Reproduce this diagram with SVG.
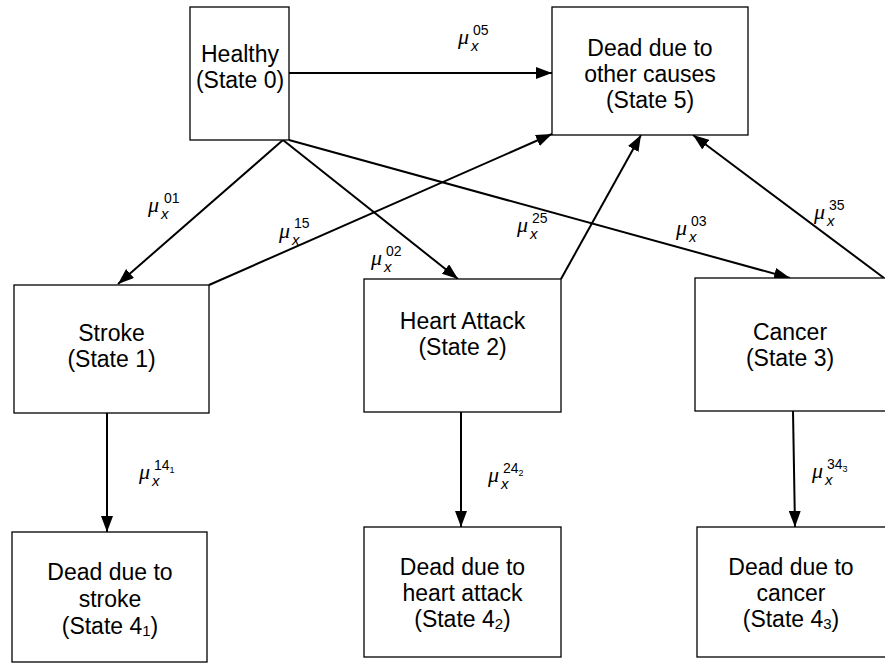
<svg xmlns="http://www.w3.org/2000/svg" width="885" height="664" viewBox="0 0 885 664">
<defs>
<style>
.box{fill:#fff;stroke:#000;stroke-width:1.3}
.t{font-family:"Liberation Sans",Arial,sans-serif;font-size:23px;fill:#000;text-anchor:middle}
.sub{font-size:15px}
.e{stroke:#000;stroke-width:2;fill:none;marker-end:url(#ah)}
.mu{font-family:"Liberation Serif","Times New Roman",serif;font-style:italic;font-size:22px;fill:#000}
.mx{font-family:"Liberation Sans",Arial,sans-serif;font-style:italic;font-size:15px;fill:#000}
.ms{font-family:"Liberation Sans",Arial,sans-serif;font-size:14px;fill:#000}
.mss{font-family:"Liberation Sans",Arial,sans-serif;font-size:9px;fill:#000}
</style>
<marker id="ah" markerUnits="userSpaceOnUse" markerWidth="17" markerHeight="12" refX="16" refY="6" orient="auto">
<path d="M0,0 L16,6 L0,12 z" fill="#000"/>
</marker>
</defs>
<rect width="885" height="664" fill="#fff"/>

<g id="connectors">
<line class="e" x1="289" y1="73" x2="552" y2="73"/>
<line class="e" x1="283" y1="140" x2="118" y2="284"/>
<line class="e" x1="283" y1="140" x2="458" y2="279"/>
<line class="e" x1="289" y1="140" x2="790" y2="278"/>
<line class="e" x1="209" y1="285" x2="552" y2="134"/>
<line class="e" x1="561" y1="279" x2="641" y2="135"/>
<line class="e" x1="884" y1="278" x2="693" y2="135"/>
<line class="e" x1="107" y1="413" x2="107" y2="532"/>
<line class="e" x1="461" y1="412" x2="461" y2="527"/>
<line class="e" x1="793" y1="411" x2="795" y2="527"/>
</g>

<g id="labels">
<g><text class="mu" x="458" y="44">μ</text><text class="mx" x="471" y="51">x</text><text class="ms" x="473" y="35">05</text></g>
<g><text class="mu" x="148" y="212">μ</text><text class="mx" x="161" y="219">x</text><text class="ms" x="164" y="203">01</text></g>
<g><text class="mu" x="279" y="238">μ</text><text class="mx" x="292" y="245">x</text><text class="ms" x="294" y="228">15</text></g>
<g><text class="mu" x="371" y="265">μ</text><text class="mx" x="384" y="272">x</text><text class="ms" x="386" y="256">02</text></g>
<g><text class="mu" x="517" y="232">μ</text><text class="mx" x="530" y="239">x</text><text class="ms" x="532" y="223">25</text></g>
<g><text class="mu" x="676" y="235">μ</text><text class="mx" x="689" y="242">x</text><text class="ms" x="691" y="226">03</text></g>
<g><text class="mu" x="814" y="219">μ</text><text class="mx" x="827" y="226">x</text><text class="ms" x="829" y="210">35</text></g>
<g><text class="mu" x="139" y="479">μ</text><text class="mx" x="152" y="486">x</text><text class="ms" x="154" y="470">14<tspan class="mss" dy="3">1</tspan></text></g>
<g><text class="mu" x="488" y="482">μ</text><text class="mx" x="501" y="489">x</text><text class="ms" x="503" y="473">24<tspan class="mss" dy="3">2</tspan></text></g>
<g><text class="mu" x="812" y="478">μ</text><text class="mx" x="825" y="485">x</text><text class="ms" x="827" y="469">34<tspan class="mss" dy="3">3</tspan></text></g>
</g>

<g id="state0"><rect class="box" x="190" y="7" width="99" height="133"/>
<text class="t" x="240" y="62">Healthy</text><text class="t" x="240" y="88">(State 0)</text></g>

<g id="state5"><rect class="box" x="552" y="7" width="196" height="128"/>
<text class="t" x="650" y="56">Dead due to</text><text class="t" x="650" y="82">other causes</text><text class="t" x="650" y="108">(State 5)</text></g>

<g id="state1"><rect class="box" x="14" y="285" width="195" height="128"/>
<text class="t" x="111.5" y="341">Stroke</text><text class="t" x="111.5" y="367">(State 1)</text></g>

<g id="state2"><rect class="box" x="364" y="279" width="197" height="133"/>
<text class="t" x="462.5" y="329">Heart Attack</text><text class="t" x="462.5" y="355">(State 2)</text></g>

<g id="state3"><rect class="box" x="695" y="278" width="195" height="133"/>
<text class="t" x="790" y="340">Cancer</text><text class="t" x="790" y="366">(State 3)</text></g>

<g id="state41"><rect class="box" x="12" y="532" width="195" height="130"/>
<text class="t" x="110" y="580">Dead due to</text><text class="t" x="110" y="607">stroke</text><text class="t" x="110" y="634">(State 4<tspan class="sub" dy="2">1</tspan><tspan dy="-2">)</tspan></text></g>

<g id="state42"><rect class="box" x="364" y="527" width="197" height="130"/>
<text class="t" x="462.5" y="575">Dead due to</text><text class="t" x="462.5" y="601">heart attack</text><text class="t" x="462.5" y="627">(State 4<tspan class="sub" dy="2">2</tspan><tspan dy="-2">)</tspan></text></g>

<g id="state43"><rect class="box" x="697" y="527" width="195" height="130"/>
<text class="t" x="791" y="575">Dead due to</text><text class="t" x="791" y="601">cancer</text><text class="t" x="791" y="627">(State 4<tspan class="sub" dy="2">3</tspan><tspan dy="-2">)</tspan></text></g>
</svg>
